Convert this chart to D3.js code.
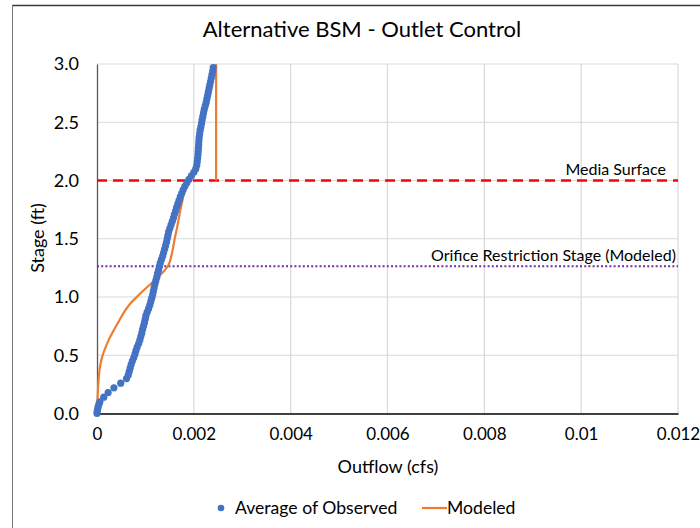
<!DOCTYPE html>
<html>
<head>
<meta charset="utf-8">
<script src="https://cdn.jsdelivr.net/npm/d3@7"></script>
<style>
  html, body { margin: 0; padding: 0; background: #fff; }
  svg { display: block; }
  text { font-family: Lato, "Open Sans", sans-serif; fill: #000; }
</style>
</head>
<body>
<svg id="chart" width="700" height="528"></svg>
<script>
// Observed stage-discharge points: outflow (cfs) and stage (ft)
const observedFlow = [
  0.000000, 0.000005, 0.000015, 0.000025, 0.000040, 0.000060, 0.000140, 0.000230, 0.000350, 0.000490,
  0.000610, 0.000645, 0.000665, 0.000685, 0.000705, 0.000730, 0.000760, 0.000785, 0.000805, 0.000830,
  0.000860, 0.000885, 0.000905, 0.000925, 0.000940, 0.000960, 0.000980, 0.000995, 0.001010, 0.001035,
  0.001065, 0.001090, 0.001110, 0.001130, 0.001150, 0.001165, 0.001180, 0.001195, 0.001215, 0.001235,
  0.001250, 0.001270, 0.001290, 0.001305, 0.001330, 0.001355, 0.001375, 0.001395, 0.001415, 0.001435,
  0.001450, 0.001465, 0.001480, 0.001505, 0.001530, 0.001555, 0.001580, 0.001600, 0.001625, 0.001645,
  0.001670, 0.001695, 0.001720, 0.001750, 0.001780, 0.001815, 0.001855, 0.001900, 0.001950, 0.002000,
  0.002040, 0.002060, 0.002070, 0.002078, 0.002085, 0.002090, 0.002095, 0.002100, 0.002105, 0.002110,
  0.002120, 0.002130, 0.002145, 0.002160, 0.002170, 0.002185, 0.002200, 0.002215, 0.002235, 0.002255,
  0.002270, 0.002285, 0.002300, 0.002315, 0.002330, 0.002345, 0.002360, 0.002375, 0.002390, 0.002400
];
const observedStage = [
  0.00, 0.02, 0.04, 0.06, 0.08, 0.10, 0.14, 0.18, 0.22, 0.26,
  0.30, 0.33, 0.36, 0.39, 0.42, 0.45, 0.48, 0.51, 0.54, 0.57,
  0.60, 0.63, 0.66, 0.69, 0.72, 0.75, 0.78, 0.81, 0.84, 0.87,
  0.90, 0.93, 0.96, 0.99, 1.02, 1.05, 1.08, 1.11, 1.14, 1.17,
  1.20, 1.23, 1.26, 1.29, 1.32, 1.35, 1.38, 1.41, 1.44, 1.47,
  1.50, 1.53, 1.56, 1.59, 1.62, 1.65, 1.68, 1.71, 1.74, 1.77,
  1.80, 1.83, 1.86, 1.89, 1.92, 1.95, 1.98, 2.01, 2.04, 2.07,
  2.10, 2.13, 2.16, 2.19, 2.22, 2.25, 2.28, 2.31, 2.34, 2.37,
  2.40, 2.43, 2.46, 2.49, 2.52, 2.55, 2.58, 2.61, 2.64, 2.67,
  2.70, 2.73, 2.76, 2.79, 2.82, 2.85, 2.88, 2.91, 2.94, 2.97
];

// Modeled rating curve; null marks the break between the two branches
const modeledFlow = [
  0, 0.000005, 0.000012, 0.000025, 0.00004, 0.00007, 0.00011, 0.00016, 0.00024, 0.00034,
  0.00045, 0.00056, 0.00068, 0.00082, 0.00097, 0.00113, 0.00128, 0.00140, 0.00147, 0.00151,
  0.00156, 0.00161, 0.00166, 0.00171, 0.00176, 0.00181, 0.00185, null, 0.00246, 0.00246
];
const modeledStage = [
  0, 0.06, 0.14, 0.24, 0.33, 0.42, 0.49, 0.55, 0.63, 0.71,
  0.79, 0.87, 0.94, 1.00, 1.06, 1.12, 1.18, 1.23, 1.27, 1.31,
  1.40, 1.51, 1.61, 1.72, 1.82, 1.92, 1.98, null, 2.00, 3.00
];

// Reference stages
const mediaSurfaceStage = 2.0;
const orificeStage = 1.265;

const xTicks = [0, 0.002, 0.004, 0.006, 0.008, 0.01, 0.012];
const xTickLabels = ["0", "0.002", "0.004", "0.006", "0.008", "0.01", "0.012"];
const yTicks = [0, 0.5, 1.0, 1.5, 2.0, 2.5, 3.0];
const yTickLabels = ["0.0", "0.5", "1.0", "1.5", "2.0", "2.5", "3.0"];

const svg = d3.select("#chart");
const plot = { left: 97, right: 678, top: 64, bottom: 413.5 };

const x = d3.scaleLinear().domain([0, 0.012]).range([plot.left, plot.right]);
const y = d3.scaleLinear().domain([0, 3]).range([plot.bottom, plot.top]);

// Chart frame
svg.append("line").attr("x1", 12).attr("x2", 700).attr("y1", 5.5).attr("y2", 5.5)
  .attr("stroke", "#3a3a3a").attr("stroke-width", 1.5);
svg.append("line").attr("x1", 12.5).attr("x2", 12.5).attr("y1", 5).attr("y2", 528)
  .attr("stroke", "#7a7a7a").attr("stroke-width", 1);

// Title
svg.append("text").attr("x", 362).attr("y", 37)
  .attr("text-anchor", "middle").attr("font-size", 22)
  .text("Alternative BSM - Outlet Control");

// Gridlines
const grid = svg.append("g");
grid.selectAll(".gx").data(xTicks.slice(1)).join("line")
  .attr("x1", d => x(d)).attr("x2", d => x(d))
  .attr("y1", plot.top).attr("y2", plot.bottom)
  .attr("stroke", "#d9d9d9").attr("stroke-width", 1.2);
grid.selectAll(".gy").data(yTicks.slice(1)).join("line")
  .attr("x1", plot.left).attr("x2", plot.right)
  .attr("y1", d => y(d)).attr("y2", d => y(d))
  .attr("stroke", "#d9d9d9").attr("stroke-width", 1.2);

// Axes
const xAxis = d3.axisBottom(x).tickValues(xTicks)
  .tickFormat((d, i) => xTickLabels[i]).tickSize(0).tickPadding(14);
const gx = svg.append("g").attr("transform", `translate(0,${plot.bottom})`).call(xAxis);
gx.select(".domain").attr("stroke", "#000").attr("stroke-width", 1.3);
gx.selectAll("text").attr("font-size", 17).attr("font-family", "Lato, sans-serif").attr("fill", "#000");

const yAxis = d3.axisLeft(y).tickValues(yTicks)
  .tickFormat((d, i) => yTickLabels[i]).tickSize(0).tickPadding(18);
const gy = svg.append("g").attr("transform", `translate(${plot.left},0)`).call(yAxis);
gy.select(".domain").attr("stroke", "#595959").attr("stroke-width", 1.3);
gy.selectAll("text").attr("font-size", 18).attr("font-family", "Lato, sans-serif").attr("fill", "#000");

// Axis titles
svg.append("text").attr("x", 388).attr("y", 473)
  .attr("text-anchor", "middle").attr("font-size", 18).text("Outflow (cfs)");
svg.append("text").attr("transform", "translate(44,238) rotate(-90)")
  .attr("text-anchor", "middle").attr("font-size", 18).text("Stage (ft)");

// Media surface (dashed) and orifice restriction stage (dotted)
svg.append("line")
  .attr("x1", plot.left).attr("x2", plot.right)
  .attr("y1", y(mediaSurfaceStage)).attr("y2", y(mediaSurfaceStage))
  .attr("stroke", "#ff0000").attr("stroke-width", 2.6).attr("stroke-dasharray", "10,6");
svg.append("line")
  .attr("x1", plot.left).attr("x2", plot.right)
  .attr("y1", y(orificeStage)).attr("y2", y(orificeStage))
  .attr("stroke", "#7030a0").attr("stroke-width", 2).attr("stroke-dasharray", "2,2.2");

svg.append("text").attr("x", 666).attr("y", y(mediaSurfaceStage) - 6)
  .attr("text-anchor", "end").attr("font-size", 16).text("Media Surface");
svg.append("text").attr("x", 676).attr("y", y(orificeStage) - 5)
  .attr("text-anchor", "end").attr("font-size", 16).text("Orifice Restriction Stage (Modeled)");

// Modeled line
const modeled = modeledFlow.map((q, i) => ({ q, s: modeledStage[i] }));
const line = d3.line()
  .defined(d => d.q !== null)
  .x(d => x(d.q)).y(d => y(d.s))
  .curve(d3.curveCatmullRom.alpha(0.5));
svg.append("path").datum(modeled)
  .attr("d", line)
  .attr("fill", "none").attr("stroke", "#ed7d31").attr("stroke-width", 2.2);

// Observed points
const observed = observedFlow.map((q, i) => ({ q, s: observedStage[i] }));
svg.append("g").selectAll("circle").data(observed).join("circle")
  .attr("cx", d => x(d.q)).attr("cy", d => y(d.s)).attr("r", 3.6)
  .attr("fill", "#4472c4");

// Legend
const legend = svg.append("g");
legend.append("circle").attr("cx", 221).attr("cy", 508).attr("r", 3.3).attr("fill", "#4472c4");
legend.append("text").attr("x", 235).attr("y", 514).attr("font-size", 17.6).text("Average of Observed");
legend.append("line").attr("x1", 422).attr("x2", 447).attr("y1", 508).attr("y2", 508)
  .attr("stroke", "#ed7d31").attr("stroke-width", 2.2);
legend.append("text").attr("x", 447).attr("y", 514).attr("font-size", 17.6).text("Modeled");
</script>
</body>
</html>
